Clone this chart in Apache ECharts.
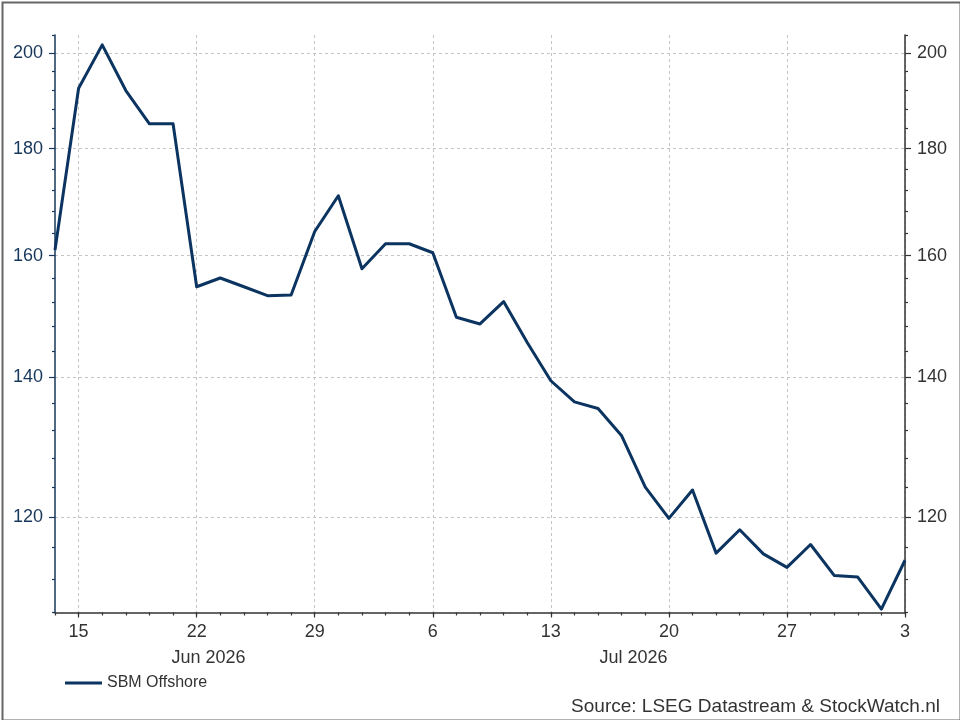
<!DOCTYPE html>
<html>
<head>
<meta charset="utf-8">
<script src="https://cdn.jsdelivr.net/npm/echarts@6/dist/echarts.min.js"></script>
<style>
html,body{margin:0;padding:0;background:#fff;}
#chart{width:960px;height:720px;}
</style>
</head>
<body>
<div id="chart"></div>
<script>
// ---- data ----
const dates = ['2026-06-12','2026-06-15','2026-06-16','2026-06-17','2026-06-18','2026-06-19',
  '2026-06-22','2026-06-23','2026-06-24','2026-06-25','2026-06-26','2026-06-29','2026-06-30',
  '2026-07-01','2026-07-02','2026-07-03','2026-07-06','2026-07-07','2026-07-08','2026-07-09',
  '2026-07-10','2026-07-13','2026-07-14','2026-07-15','2026-07-16','2026-07-17','2026-07-20',
  '2026-07-21','2026-07-22','2026-07-23','2026-07-24','2026-07-27','2026-07-28','2026-07-29',
  '2026-07-30','2026-07-31','2026-08-03'];
const sbmOffshore = [161.0, 192.4, 201.8, 191.9, 185.0, 185.0, 154.6, 156.1, 154.6, 153.1,
  153.2, 164.3, 170.9, 157.7, 162.1, 162.1, 160.5, 149.5, 148.4, 152.1,
  145.4, 139.4, 136.2, 135.2, 131.2, 124.0, 119.8, 123.6, 115.3, 118.3,
  115.2, 113.5, 116.4, 112.5, 112.3, 108.4, 114.4];
const seriesName = 'SBM Offshore';
const yMin = 108, yMax = 204;
const yMajorTicks = [120, 140, 160, 180, 200];
const yMinorTicks = [108, 112, 116, 124, 128, 132, 136, 144, 148, 152, 156, 164, 168, 172, 176, 184, 188, 192, 196, 204];
const monthNames = ['Jan','Feb','Mar','Apr','May','Jun','Jul','Aug','Sep','Oct','Nov','Dec'];
const sourceText = 'Source: LSEG Datastream & StockWatch.nl';

// ---- helpers ----
function parseD(s){ const p = s.split('-').map(Number); return new Date(Date.UTC(p[0], p[1]-1, p[2])); }
function isMonday(s){ return parseD(s).getUTCDay() === 1; }
const lg = v => Math.log10(v);
const logData = sbmOffshore.map(lg);
const majorLog = yMajorTicks.map(lg);
const minorLog = yMinorTicks.map(lg);

// month label centres: midpoint between a month's first index and the next month's first index
const monthStarts = [];
dates.forEach((d, i) => {
  const dt = parseD(d);
  const key = dt.getUTCFullYear() * 12 + dt.getUTCMonth();
  if (!monthStarts.length || monthStarts[monthStarts.length - 1].key !== key) {
    monthStarts.push({key: key, idx: i, label: monthNames[dt.getUTCMonth()] + ' ' + dt.getUTCFullYear()});
  }
});
const monthCenters = [], monthLabelMap = {};
for (let k = 0; k < monthStarts.length - 1; k++) {
  const c = (monthStarts[k].idx + monthStarts[k + 1].idx) / 2;
  monthCenters.push(c);
  monthLabelMap[c] = monthStarts[k].label;
}

const FONT = '"Liberation Sans", Arial, Helvetica, sans-serif';
const NAVY = '#17375a';
const LINE = '#0b3461';
const GRID = '#c4c4c4';

const chart = echarts.init(document.getElementById('chart'), null, {renderer: 'canvas'});

const option = {
  animation: false,
  backgroundColor: '#fff',
  textStyle: {fontFamily: FONT},
  grid: {left: 55, right: 55, top: 35, bottom: 107.5, containLabel: false, outerBoundsMode: 'none'},
  legend: {
    data: [seriesName],
    left: 60, top: 670,
    icon: 'rect', itemWidth: 37, itemHeight: 3, itemGap: 10,
    textStyle: {fontSize: 16, color: '#333', fontFamily: FONT}
  },
  xAxis: [
    {
      type: 'category', data: dates, boundaryGap: false, position: 'bottom',
      axisLine: {show: true, lineStyle: {color: '#333', width: 1.5}},
      axisTick: {show: true, length: 5, interval: (i, v) => isMonday(v), lineStyle: {color: '#333', width: 1.2}},
      axisLabel: {
        interval: (i, v) => isMonday(v),
        formatter: v => String(parseD(v).getUTCDate()),
        fontSize: 18, color: '#333', margin: 11, fontFamily: FONT
      },
      splitLine: {show: true, interval: (i, v) => isMonday(v), lineStyle: {color: GRID, type: [3, 3], width: 1}}
    },
    {
      type: 'value', min: 0, max: dates.length - 1, interval: 1, position: 'bottom', offset: 0,
      axisLine: {show: false},
      axisTick: {show: true, length: 3, lineStyle: {color: '#333', width: 1.2}},
      axisLabel: {
        customValues: monthCenters,
        formatter: v => monthLabelMap[v] || '',
        fontSize: 18, color: '#333', margin: 37, fontFamily: FONT
      },
      splitLine: {show: false}
    }
  ],
  yAxis: [
    {
      type: 'value', position: 'left', min: lg(yMin), max: lg(yMax),
      axisLine: {show: true, lineStyle: {color: NAVY, width: 1.5}},
      axisTick: {show: true, customValues: majorLog, length: 6, lineStyle: {color: NAVY, width: 1.2}},
      axisLabel: {customValues: majorLog, formatter: v => String(Math.round(Math.pow(10, v))),
        fontSize: 18, color: NAVY, margin: 12, fontFamily: FONT},
      splitLine: {show: true, lineStyle: {color: GRID, type: [3, 3], width: 1}}
    },
    {
      type: 'value', position: 'right', min: lg(yMin), max: lg(yMax),
      axisLine: {show: true, lineStyle: {color: '#333', width: 1.5}},
      axisTick: {show: true, customValues: majorLog, length: 6, lineStyle: {color: '#333', width: 1.2}},
      axisLabel: {customValues: majorLog, formatter: v => String(Math.round(Math.pow(10, v))),
        fontSize: 18, color: '#333', margin: 12, fontFamily: FONT},
      splitLine: {show: false}
    },
    {
      type: 'value', position: 'left', min: lg(yMin), max: lg(yMax), offset: 0,
      axisLine: {show: false},
      axisTick: {show: true, customValues: minorLog, length: 3, lineStyle: {color: NAVY, width: 1.2}},
      axisLabel: {show: false},
      splitLine: {show: false}
    },
    {
      type: 'value', position: 'right', min: lg(yMin), max: lg(yMax), offset: 0,
      axisLine: {show: false},
      axisTick: {show: true, customValues: minorLog, length: 3, lineStyle: {color: '#333', width: 1.2}},
      axisLabel: {show: false},
      splitLine: {show: false}
    }
  ],
  series: [{
    name: seriesName, type: 'line', data: logData,
    xAxisIndex: 0, yAxisIndex: 0,
    showSymbol: false, symbol: 'none', smooth: false,
    lineStyle: {color: LINE, width: 3, join: 'round'},
    itemStyle: {color: LINE}
  }],
  graphic: [
    {type: 'rect', left: 0, top: 0, z: 100, silent: true,
      shape: {x: 1, y: 1, width: 958, height: 718},
      style: {fill: 'none', stroke: '#666', lineWidth: 2}},
    {type: 'text', right: 20, top: 697, z: 100,
      style: {text: sourceText, font: '19px ' + FONT, fill: '#333'}}
  ]
};
chart.setOption(option);
</script>
</body>
</html>
